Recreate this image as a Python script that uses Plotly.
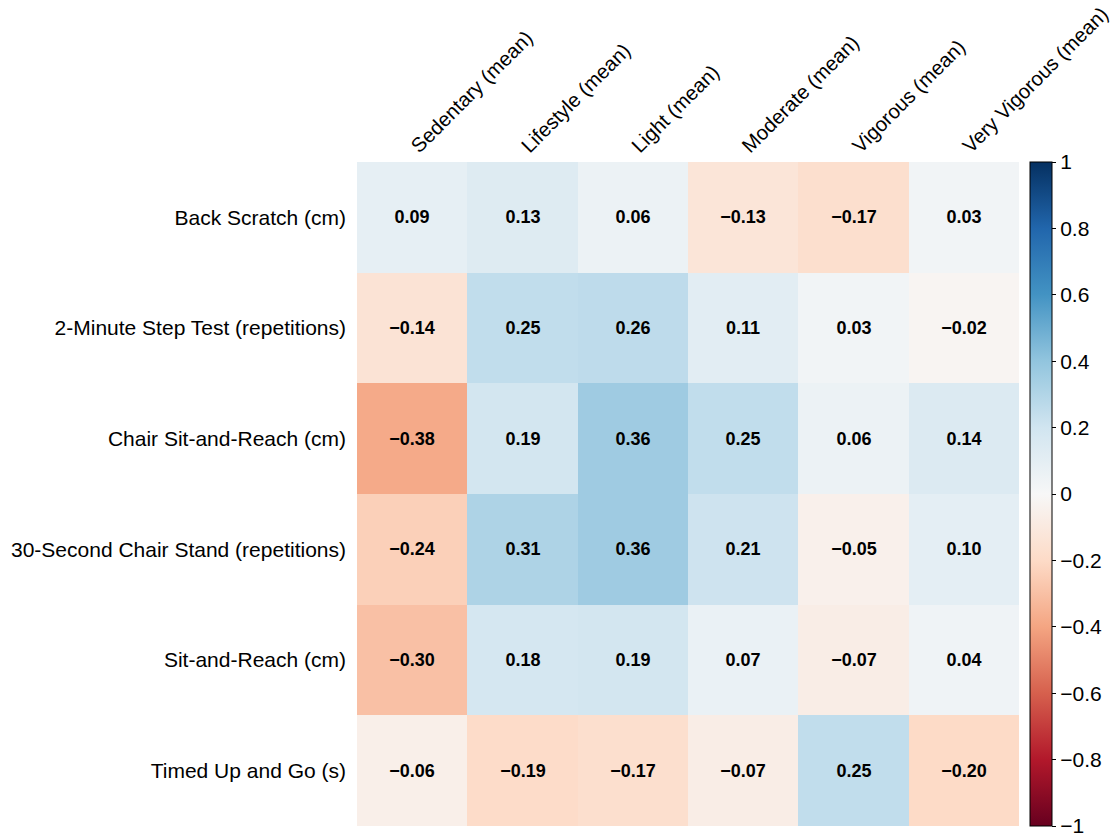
import plotly.graph_objects as go

# Physical-activity categories (columns) and fitness tests (rows)
activities = ["Sedentary (mean)", "Lifestyle (mean)", "Light (mean)",
              "Moderate (mean)", "Vigorous (mean)", "Very Vigorous (mean)"]
tests = ["Back Scratch (cm)", "2-Minute Step Test (repetitions)",
         "Chair Sit-and-Reach (cm)", "30-Second Chair Stand (repetitions)",
         "Sit-and-Reach (cm)", "Timed Up and Go (s)"]

back_scratch = [0.09, 0.13, 0.06, -0.13, -0.17, 0.03]
step_test = [-0.14, 0.25, 0.26, 0.11, 0.03, -0.02]
chair_sit_reach = [-0.38, 0.19, 0.36, 0.25, 0.06, 0.14]
chair_stand = [-0.24, 0.31, 0.36, 0.21, -0.05, 0.10]
sit_reach = [-0.30, 0.18, 0.19, 0.07, -0.07, 0.04]
timed_up_go = [-0.06, -0.19, -0.17, -0.07, 0.25, -0.20]

corr = [back_scratch, step_test, chair_sit_reach, chair_stand, sit_reach, timed_up_go]

colorbar_ticks = [1, 0.8, 0.6, 0.4, 0.2, 0, -0.2, -0.4, -0.6, -0.8, -1]

# Cell labels with a typographic minus sign
cell_text = [[f"{v:.2f}".replace("-", "\u2212") for v in row] for row in corr]

# Diverging red-blue scale (ColorBrewer RdBu)
rdbu = ["#67001f", "#b2182b", "#d6604d", "#f4a582", "#fddbc7", "#f7f7f7",
        "#d1e5f0", "#92c5de", "#4393c3", "#2166ac", "#053061"]
colorscale = [[i / (len(rdbu) - 1), c] for i, c in enumerate(rdbu)]

FONT = "Liberation Sans, Arial, sans-serif"
LABEL_SIZE = 21

fig = go.Figure(go.Heatmap(
    z=corr, x=activities, y=tests,
    zmin=-1, zmax=1, colorscale=colorscale,
    text=cell_text,
    texttemplate="<b>%{text}</b>",
    textfont=dict(family=FONT, size=18, color="black"),
    hoverinfo="skip",
    colorbar=dict(
        x=1.0166, xanchor="left", xpad=0,
        y=0.5, yanchor="middle", len=1, lenmode="fraction", ypad=0,
        thickness=22, outlinecolor="black", outlinewidth=1,
        tickvals=colorbar_ticks, ticks="outside", ticklen=4,
        tickcolor="black", ticklabeloverflow="allow",
        tickfont=dict(family=FONT, size=LABEL_SIZE, color="black"),
    ),
))

fig.update_xaxes(side="top", tickangle=-45, showgrid=False, zeroline=False,
                 ticks="", automargin=False,
                 tickfont=dict(family=FONT, size=20.3, color="black"))
fig.update_yaxes(autorange="reversed", showgrid=False, zeroline=False,
                 ticks="", ticklabelstandoff=10, automargin=False,
                 tickfont=dict(family=FONT, size=LABEL_SIZE, color="black"))

fig.update_layout(
    width=1116, height=834,
    margin=dict(l=357, r=97, t=162, b=8, autoexpand=False),
    paper_bgcolor="white", plot_bgcolor="white",
    font=dict(family=FONT),
)

fig.write_html("out.html")
